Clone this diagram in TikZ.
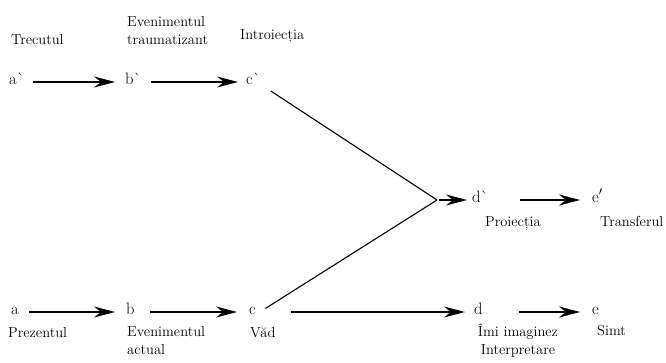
\documentclass[tikz,border=0pt]{standalone}
\usetikzlibrary{arrows.meta}
\begin{document}
\begin{tikzpicture}[x=1pt,y=-1pt,
  every node/.style={inner sep=0pt,font=\fontsize{14.5}{18}\selectfont},
  letter/.style={anchor=west,text height=1ex,text depth=0pt,font=\fontsize{16.5}{18}\selectfont},
  label/.style={anchor=base west},
  twoline/.style={align=left,anchor=west},
  link/.style={line width=1.1pt},
  arr/.style={link,-{Stealth[length=21pt,width=11pt,inset=7pt]}}]
\useasboundingbox (0,0) rectangle (666,363);

% top row: past
\node[letter] (a1) at (9,82) {a\textasciigrave};
\node[letter] (b1) at (125,82) {b\textasciigrave};
\node[letter] (c1) at (246,82) {c\textasciigrave};
% bottom row: present
\node[letter] (a) at (11,312) {a};
\node[letter] (b) at (126,312) {b};
\node[letter] (c) at (249,312) {c};
\node[letter] (d) at (474,312) {d};
\node[letter] (e) at (592,312) {e};
% middle right: projection and transference
\node[letter] (d1) at (472,200) {d\textasciigrave};
\node[letter] (e1) at (592,200) {e$'$};
\coordinate (m) at (437,200);

% labels
\node[label] (lt) at (11,45) {Trecutul};
\node[twoline] (lev) at (127,31) {Evenimentul\\traumatizant};
\node[label] (lin) at (240,40) {Introiecția};
\node[label] (lpz) at (8,337) {Prezentul};
\node[twoline] (lea) at (127,341) {Evenimentul\\actual};
\node[label] (lvd) at (250,337) {Văd};
\node[align=center] (lim) at (518,341) {Îmi imaginez\\Interpretare};
\node[label] (lsm) at (597,335) {Simt};
\node[label] (lpr) at (485,227) {Proiecția};
\node[label] (ltr) at (600,227) {Transferul};

% connectors
\draw[arr,shorten <=8pt,shorten >=10pt] (a1) -- (b1);
\draw[arr,shorten <=10pt,shorten >=8pt] (b1) -- (c1);
\draw[arr,shorten <=10pt,shorten >=11pt] (a) -- (b);
\draw[arr,shorten <=15pt,shorten >=12pt] (b) -- (c);
\draw[arr,shorten <=35pt,shorten >=9pt] (c) -- (d);
\draw[arr,shorten <=32pt,shorten >=12pt] (d1) -- (e1);
\draw[arr,shorten <=36pt,shorten >=12pt] (d) -- (e);
\draw[link,shorten <=12pt] (c1.south east) -- (m);
\draw[link,shorten <=11pt] (c.south east) -- (m);
\draw[arr,shorten <=2pt,shorten >=5pt] (m) -- (d1);
\end{tikzpicture}
\end{document}
